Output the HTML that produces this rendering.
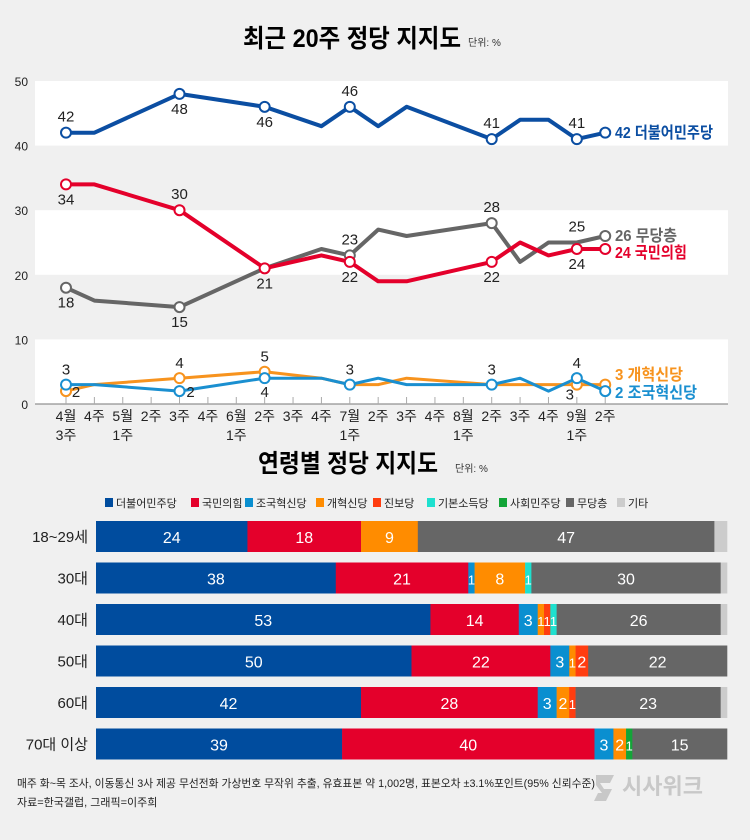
<!DOCTYPE html>
<html><head><meta charset="utf-8"><style>
html,body{margin:0;padding:0;background:#f0f0f0;}
svg{display:block;font-family:"Liberation Sans","Noto Sans CJK KR",sans-serif;}
</style></head><body>
<svg id="root" width="750" height="840" viewBox="0 0 750 840">
<rect x="0" y="0" width="750" height="840" fill="#f0f0f0"/>
<text x="243" y="47" font-size="25" font-weight="bold" textLength="218" lengthAdjust="spacingAndGlyphs">최근 20주 정당 지지도</text>
<text x="468" y="46" font-size="10" fill="#333">단위: %</text>
<g id="line-chart"></g>
<text x="258" y="472" font-size="25" font-weight="bold" textLength="180" lengthAdjust="spacingAndGlyphs">연령별 정당 지지도</text>
<text x="455" y="472" font-size="10" fill="#333">단위: %</text>
<g id="bar-chart"></g>
<text x="17" y="787" font-size="11" fill="#222" textLength="578" lengthAdjust="spacingAndGlyphs">매주 화~목 조사, 이동통신 3사 제공 무선전화 가상번호 무작위 추출, 유효표본 약 1,002명, 표본오차 ±3.1%포인트(95% 신뢰수준)</text>
<text x="17" y="806" font-size="11" fill="#222">자료=한국갤럽, 그래픽=이주희</text>
<text x="622" y="794" font-size="22" font-weight="bold" fill="#c8c8c8">시사위크</text>
<path d="M596 775 h18 l-4 8 h-10 l4 6 h8 l-6 12 h-12 l4 -8 h4 l-6 -8 z" fill="#c8c8c8"/>
</svg>
<script>
// ---------- line chart data ----------
const weekLabels1 = ["4월","4주","5월","2주","3주","4주","6월","2주","3주","4주","7월","2주","3주","4주","8월","2주","3주","4주","9월","2주"];
const weekLabels2 = ["3주","","1주","","","","1주","","","","1주","","","","1주","","","","1주",""];
const dem  = [42,42,null,null,48,null,null,46,null,43,46,43,46,null,null,41,44,44,41,42];
const ppp  = [34,34,null,null,30,null,null,21,null,23,22,19,19,null,null,22,25,23,24,24];
const none = [18,16,null,null,15,null,null,21,null,24,23,27,26,null,null,28,22,25,25,26];
const rfm  = [2,3,null,null,4,null,null,5,null,4,3,3,4,null,null,3,3,3,3,3];
const rkp  = [3,3,null,null,2,null,null,4,null,4,3,4,3,null,null,3,4,2,4,2];
const yTicks = [0,10,20,30,40,50];

const NS="http://www.w3.org/2000/svg";
function mk(tag,attrs,parent,txt){const e=document.createElementNS(NS,tag);for(const k in attrs)e.setAttribute(k,attrs[k]);if(txt!==undefined)e.textContent=txt;parent.appendChild(e);return e;}
const xS=i=>66+i*28.38;
const yS=v=>404-v*6.46;
const lc=document.getElementById('line-chart');

[[40,50],[20,30],[0,10]].forEach(b=>{
  const r=mk('rect',{x:35,y:yS(b[1]),width:693,height:yS(b[0])-yS(b[1]),fill:'#fff'},lc);
  
  
});
yTicks.forEach(t=>{
  const tx=mk('text',{x:28,y:yS(t)+5,'font-size':12,'text-anchor':'end',fill:'#222'},lc,String(t));
  
  
});
const ax=mk('line',{x1:35,x2:728,y1:404,y2:404,stroke:'#777','stroke-width':1},lc);


weekLabels1.forEach((l,i)=>{
  const tk=mk('line',{x1:xS(i),x2:xS(i),y1:397,y2:404,stroke:'#aaa','stroke-width':1},lc);
  
  
  const t=mk('text',{x:xS(i),y:421,'font-size':14,'text-anchor':'middle',fill:'#222'},lc,l);
  
  
  if(weekLabels2[i]){
    const t2=mk('text',{x:xS(i),y:440,'font-size':14,'text-anchor':'middle',fill:'#222'},lc,weekLabels2[i]);
    
    
  }
});

const series=[
 {d:none,c:'#666666',w:4,name:'series-no-party',circ:[0,4,10,15,19],lab:{0:[0,20],4:[0,20],10:[0,-11],15:[0,-11],18:[0,-11]},end:'26 무당층',ey:241,tl:62},
 {d:ppp,c:'#e4002b',w:4,name:'series-ppp',circ:[0,4,7,10,15,18,19],lab:{0:[0,20],4:[0,-11],7:[0,20],10:[0,20],15:[0,20],18:[0,20]},end:'24 국민의힘',ey:258,tl:72},
 {d:dem,c:'#0b4ea2',w:4,name:'series-democratic',circ:[0,4,7,10,15,18,19],lab:{0:[0,-11],4:[0,20],7:[0,20],10:[0,-11],15:[0,-11],18:[0,-11]},end:'42 더불어민주당',ey:138,tl:98},
 {d:rfm,c:'#f7931e',w:3,name:'series-reform',circ:[0,4,7,18,19],lab:{0:[10,6],4:[0,-10],7:[0,-10],18:[-7,15]},end:'3 개혁신당',ey:380,tl:68},
 {d:rkp,c:'#1a8fd0',w:3,name:'series-rebuilding-korea',circ:[0,4,7,10,15,18,19],lab:{0:[0,-10],4:[11,6],7:[0,19],10:[0,-10],15:[0,-10],18:[0,-10]},end:'2 조국혁신당',ey:398,tl:82}
];
series.forEach(s=>{
  let pts=[];s.d.forEach((v,i)=>{if(v!==null)pts.push(xS(i).toFixed(1)+','+yS(v).toFixed(1));});
  const pl=mk('polyline',{points:pts.join(' '),fill:'none',stroke:s.c,'stroke-width':s.w,'stroke-linejoin':'round'},lc);
  
  
  s.circ.forEach(i=>{
    if(s.d[i]===null)return;
    const c=mk('circle',{cx:xS(i),cy:yS(s.d[i]),r:5,fill:'#fff',stroke:s.c,'stroke-width':2},lc);
    
    
  });
  for(const k in s.lab){
    const i=+k;if(s.d[i]===null)continue;
    const o=s.lab[k];
    const t=mk('text',{x:xS(i)+o[0],y:yS(s.d[i])+o[1],'font-size':15,'text-anchor':'middle',fill:'#222'},lc,String(s.d[i]));
    
    
  }
  const e=mk('text',{x:615,y:s.ey,'font-size':16,'font-weight':'bold',fill:s.c,textLength:s.tl,lengthAdjust:'spacingAndGlyphs'},lc,s.end);
  
  
});

// ---------- bar chart data ----------
const ageGroups=["18~29세","30대","40대","50대","60대","70대 이상"];
const partyNames=["더불어민주당","국민의힘","조국혁신당","개혁신당","진보당","기본소득당","사회민주당","무당층","기타"];
const partyColors=["#004c9e","#e4002b","#0a8fd0","#ff8c00","#ff3d10","#1ee0cf","#13a538","#666666","#cccccc"];
const sDem=[24,38,53,50,42,39];
const sPpp=[18,21,14,22,28,40];
const sRkp=[0,1,3,3,3,3];
const sRfm=[9,8,1,1,2,2];
const sProg=[0,0,1,2,1,0];
const sBasic=[0,1,1,0,0,0];
const sSdp=[0,0,0,0,0,1];
const sNone=[47,30,26,22,23,15];
const sEtc=[2,1,1,0,1,0];
const stacks=[sDem,sPpp,sRkp,sRfm,sProg,sBasic,sSdp,sNone,sEtc];

const bc=document.getElementById('bar-chart');
const legendX=[105,191,245,316,373,427,499,566,617];
partyNames.forEach((n,k)=>{
  const g=mk('g',{},bc);
  
  
  const lx=legendX[k];
  mk('rect',{x:lx,y:498,width:8,height:9,fill:partyColors[k]},g);
  mk('text',{x:lx+11,y:507,'font-size':11,fill:'#222'},g,n);
});
const bx=96,bw=631,bh=31;
ageGroups.forEach((a,r)=>{
  const y=521+r*41.5;
  const t=mk('text',{x:88,y:y+21,'font-size':15,'text-anchor':'end',fill:'#222'},bc,a);
  
  
  let x=bx;
  stacks.forEach((arr,k)=>{
    const v=arr[r];if(!v)return;
    const w=v/100*bw;
    const rc=mk('rect',{x:x,y:y,width:w+0.3,height:bh,fill:partyColors[k]},bc);
    
    
    if(k<8){
      const tt=mk('text',{x:x+w/2,y:y+22,'font-size':v<2?13:16,'text-anchor':'middle',fill:'#fff'},bc,String(v));
      
      
    }
    x+=w;
  });
});
</script>
</body></html>
